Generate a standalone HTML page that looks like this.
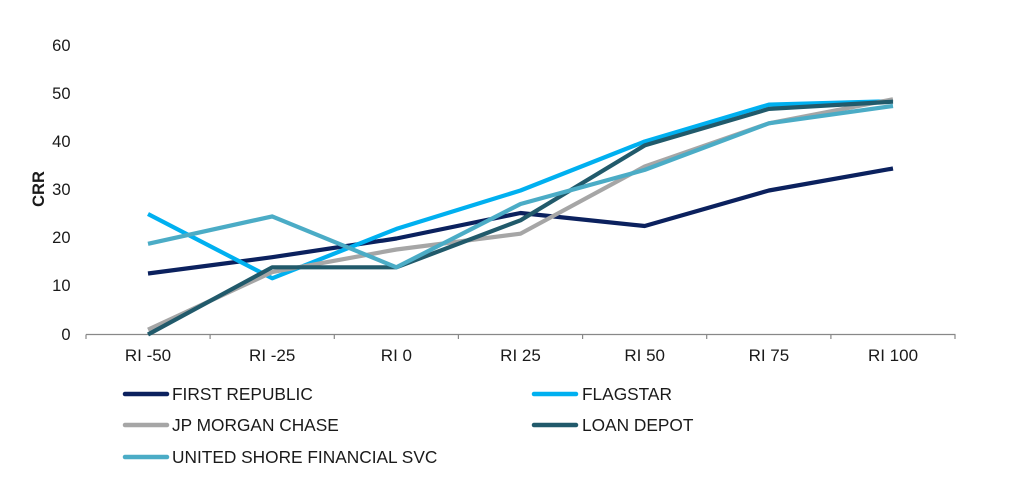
<!DOCTYPE html>
<html>
<head>
<meta charset="utf-8">
<style>
html,body{margin:0;padding:0;background:#fff;}
svg{display:block;}
text{font-family:"Liberation Sans",Arial,sans-serif;fill:#1a1a1a;}
</style>
</head>
<body>
<svg width="1024" height="485" viewBox="0 0 1024 485" xmlns="http://www.w3.org/2000/svg">
  <!-- Y tick labels -->
  <g font-size="16.5" text-anchor="end">
    <text x="70.5" y="51">60</text>
    <text x="70.5" y="99">50</text>
    <text x="70.5" y="147">40</text>
    <text x="70.5" y="195">30</text>
    <text x="70.5" y="243">20</text>
    <text x="70.5" y="291">10</text>
    <text x="70.5" y="340">0</text>
  </g>
  <!-- Y axis title -->
  <text x="0" y="0" font-size="16.5" font-weight="bold" text-anchor="middle" transform="translate(44,189) rotate(-90)">CRR</text>

  <!-- X axis -->
  <g stroke="#888" stroke-width="1.2" fill="none">
    <line x1="86" y1="334.5" x2="955.5" y2="334.5"/>
    <line x1="86" y1="334.5" x2="86" y2="339"/>
    <line x1="210.1" y1="334.5" x2="210.1" y2="339"/>
    <line x1="334.3" y1="334.5" x2="334.3" y2="339"/>
    <line x1="458.4" y1="334.5" x2="458.4" y2="339"/>
    <line x1="582.6" y1="334.5" x2="582.6" y2="339"/>
    <line x1="706.7" y1="334.5" x2="706.7" y2="339"/>
    <line x1="830.9" y1="334.5" x2="830.9" y2="339"/>
    <line x1="955" y1="334.5" x2="955" y2="339"/>
  </g>
  <g font-size="17" text-anchor="middle">
    <text x="148" y="361">RI -50</text>
    <text x="272.2" y="361">RI -25</text>
    <text x="396.4" y="361">RI 0</text>
    <text x="520.5" y="361">RI 25</text>
    <text x="644.7" y="361">RI 50</text>
    <text x="768.9" y="361">RI 75</text>
    <text x="893" y="361">RI 100</text>
  </g>

  <!-- Series -->
  <g fill="none" stroke-width="4.2" stroke-linejoin="round" stroke-linecap="butt">
    <polyline stroke="#0b215e" points="148,273.5 272.2,257.2 396.4,238.5 520.5,213 644.7,226 768.9,190.5 893,168.5"/>
    <polyline stroke="#00b0f0" points="148,214 272.2,278.3 396.4,228.9 520.5,190.5 644.7,141.5 768.9,104.6 893,101.2"/>
    <polyline stroke="#a6a6a6" points="148,329.7 272.2,272.1 396.4,249.5 520.5,233.7 644.7,166.5 768.9,123.3 893,99.3"/>
    <polyline stroke="#215a6b" points="148,334.5 272.2,267.3 396.4,267.3 520.5,220.3 644.7,145.4 768.9,108.9 893,101.7"/>
    <polyline stroke="#4bacc6" points="148,243.8 272.2,216.4 396.4,267.3 520.5,204 644.7,169.9 768.9,123.3 893,106"/>
  </g>

  <!-- Legend -->
  <g stroke-width="4.5" stroke-linecap="round">
    <line x1="125" y1="394" x2="167" y2="394" stroke="#0b215e"/>
    <line x1="534" y1="394" x2="576" y2="394" stroke="#00b0f0"/>
    <line x1="125" y1="425" x2="167" y2="425" stroke="#a6a6a6"/>
    <line x1="534" y1="425" x2="576" y2="425" stroke="#215a6b"/>
    <line x1="125" y1="457" x2="167" y2="457" stroke="#4bacc6"/>
  </g>
  <g font-size="17.3">
    <text x="172" y="400">FIRST REPUBLIC</text>
    <text x="582" y="400">FLAGSTAR</text>
    <text x="172" y="431">JP MORGAN CHASE</text>
    <text x="582" y="431">LOAN DEPOT</text>
    <text x="172" y="463">UNITED SHORE FINANCIAL SVC</text>
  </g>
</svg>
</body>
</html>
